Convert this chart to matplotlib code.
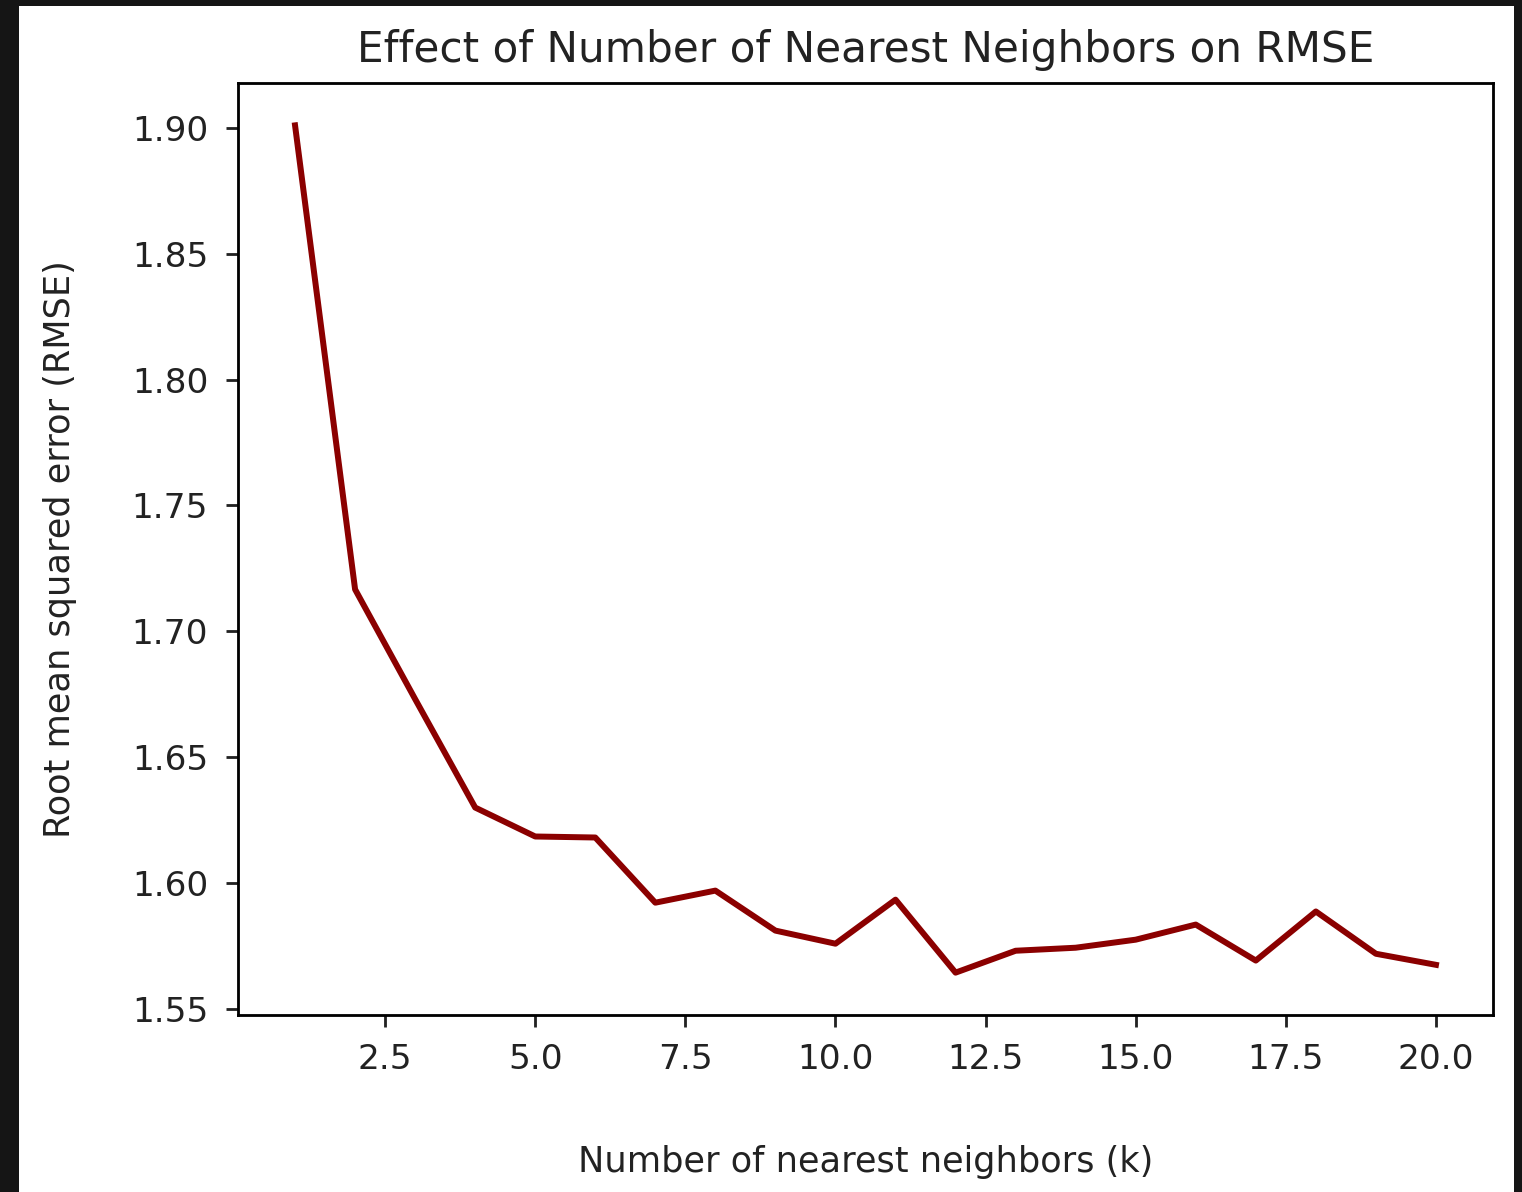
import matplotlib
matplotlib.use("Agg")
import matplotlib.pyplot as plt
from matplotlib.patches import Rectangle

k_values = list(range(1, 21))
rmse_values = [1.901, 1.7166, 1.673, 1.6299, 1.6184, 1.618, 1.5921, 1.5969, 1.581, 1.5758,
               1.5933, 1.5643, 1.573, 1.5742, 1.5774, 1.5834, 1.5691, 1.5886, 1.5718, 1.5674]

title = "Effect of Number of Nearest Neighbors on RMSE"
xlabel = "Number of nearest neighbors (k)"
ylabel = "Root mean squared error (RMSE)"

W, H = 1522, 1192
dpi = 253
fig = plt.figure(figsize=(W / dpi, H / dpi), dpi=dpi, facecolor="#151515")
bg = Rectangle((19 / W, 0), 1495 / W, (H - 6) / H, transform=fig.transFigure,
               facecolor="white", edgecolor="none", zorder=-10)
fig.add_artist(bg)

ax = fig.add_axes([238 / W, 1 - 1015 / H, (1493 - 238) / W, (1015 - 83) / H])
ax.set_zorder(1)
ax.plot(k_values, rmse_values, color="#8b0000", linewidth=1.7)
ax.set_title(title, fontsize=12, color="#222222")
ax.set_xlabel(xlabel, labelpad=19.5, fontsize=10, color="#222222")
ax.set_ylabel(ylabel, labelpad=15.5, fontsize=10, color="#222222")
ax.tick_params(axis="both", colors="#222222", labelsize=9.8)
ax.tick_params(axis="y", pad=5.0)
ax.tick_params(axis="x", pad=4.5)
fig.savefig("out.png", dpi=dpi, facecolor=fig.get_facecolor())
